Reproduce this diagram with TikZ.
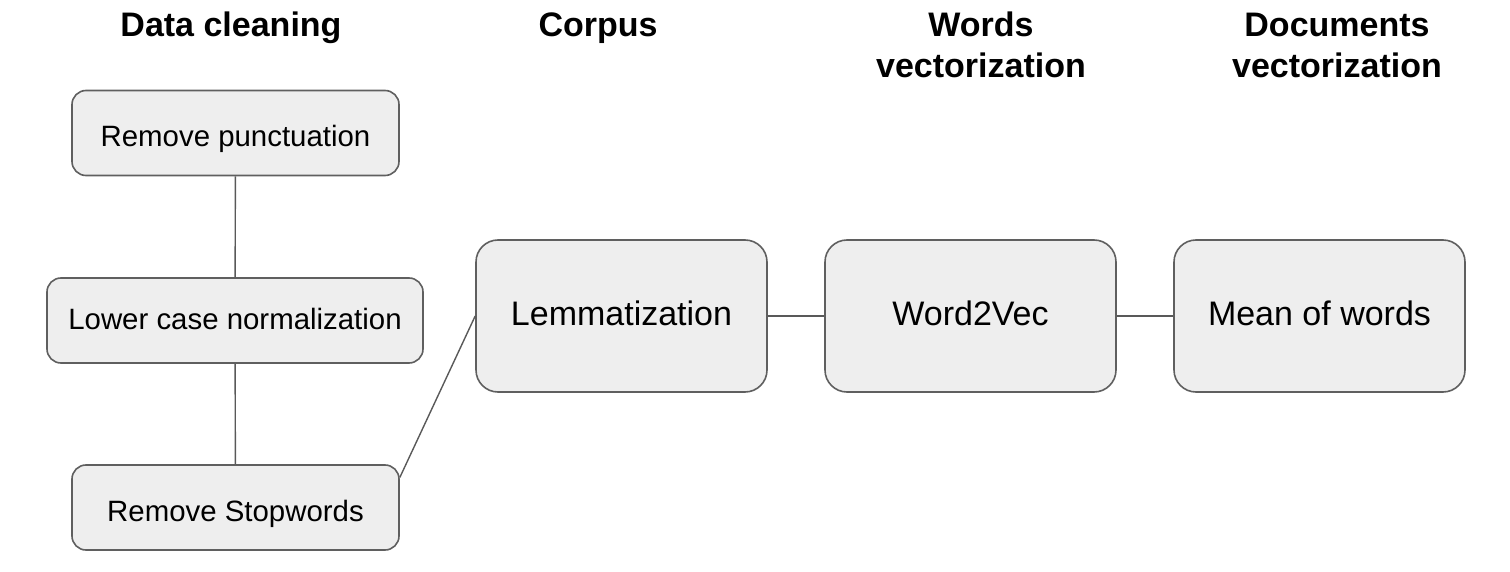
\documentclass[tikz,border=0pt]{standalone}
\usepackage{fontspec}
\setmainfont{Liberation Sans}
\definecolor{boxfill}{HTML}{EEEEEE}
\definecolor{boxline}{HTML}{5F5F5F}
\definecolor{linkline}{HTML}{595959}
\begin{document}
\begin{tikzpicture}[x=0.5pt, y=-0.5pt,
    heading/.style={font=\bfseries\fontsize{17}{20.5}\selectfont, align=center, anchor=base, inner sep=0pt},
    smallbox/.style={draw=boxline, fill=boxfill, line width=0.8pt, rounded corners=7pt,
        font=\fontsize{14.7}{17}\selectfont, minimum height=42.5pt, inner sep=0pt,
        text height=14pt, text depth=0pt},
    bigbox/.style={draw=boxline, fill=boxfill, line width=0.8pt, rounded corners=11pt,
        font=\fontsize{17}{20}\selectfont, minimum width=145.5pt, minimum height=76pt, inner sep=0pt,
        text height=9.5pt, text depth=0pt},
    link/.style={draw=linkline, line width=0.7pt}]

        \useasboundingbox (0,0) rectangle (1510,572);

        % Column headings
        \node[heading] (hclean) at (231,37) {Data cleaning};
        \node[heading] (hcorpus) at (598,37) {Corpus};
        \node[heading] (hwords) at (981,78) {Words\\vectorization};
        \node[heading] (hdocs) at (1337,78) {Documents\\vectorization};

        % Data cleaning steps
        \node[smallbox, minimum width=163.5pt] (punct) at (235.5,133) {Remove punctuation};
        \node[smallbox, minimum width=188pt, text height=9pt] (lower) at (235,320.5) {Lower case normalization};
        \node[smallbox, minimum width=163.5pt] (stop) at (235.5,507.5) {Remove Stopwords};

        % Corpus and vectorization
        \node[bigbox] (lemma) at (621.5,316) {Lemmatization};
        \node[bigbox] (wordvec) at (970.5,316) {Word2Vec};
        \node[bigbox] (meanwords) at (1319.5,316) {Mean of words};

        % Connections
        \draw[link] (punct) -- (lower);
        \draw[link] (lower) -- (stop);
        \draw[link] ([yshift=15pt]stop.east) -- (lemma.west);
        \draw[link] (lemma) -- (wordvec);
        \draw[link] (wordvec) -- (meanwords);

\end{tikzpicture}
\end{document}
